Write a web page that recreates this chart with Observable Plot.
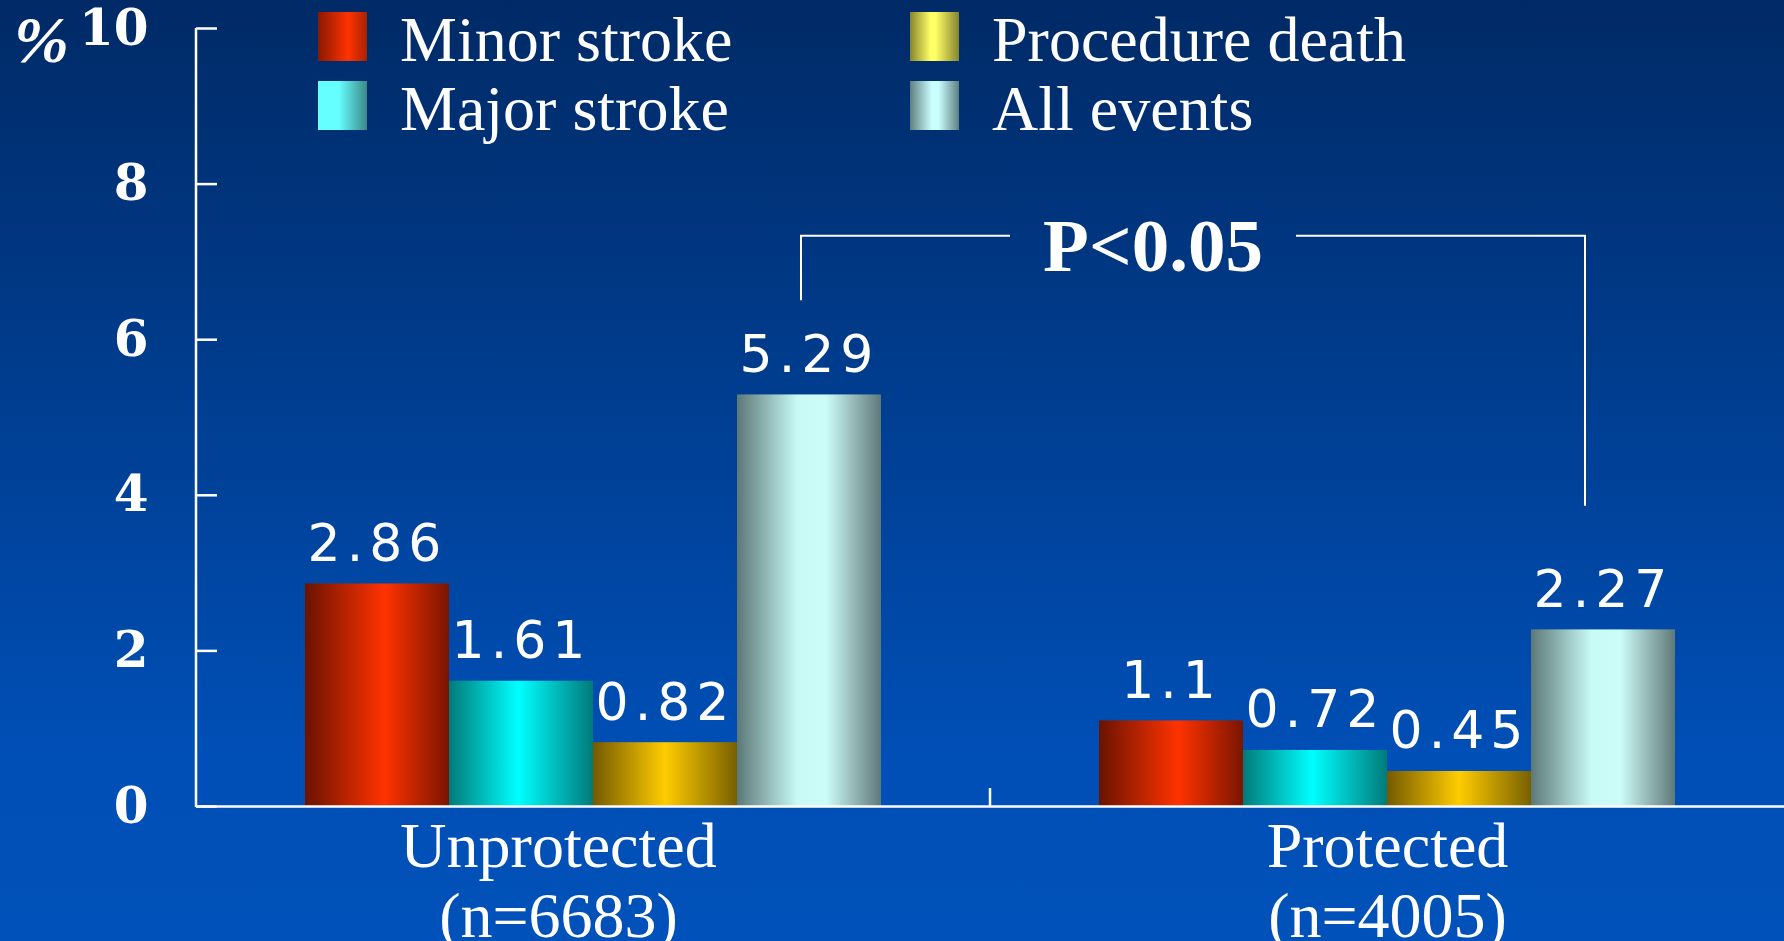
<!DOCTYPE html>
<html>
<head>
<meta charset="utf-8">
<script src="https://cdn.jsdelivr.net/npm/d3@7"></script>
<script src="https://cdn.jsdelivr.net/npm/@observablehq/plot@0.6"></script>
<style>
  html, body { margin: 0; padding: 0; }
  body {
    width: 1784px; height: 941px; overflow: hidden;
    background: linear-gradient(180deg, #002a66 0%, #004fb6 80%, #0051b9 100%);
  }
  #chart { position: relative; width: 1784px; height: 941px; }
  #chart svg { position: absolute; left: 0; top: 0; }
  .ylabel, .legend-text {
    position: absolute; color: #fff; line-height: 1; white-space: nowrap;
    font-family: "Liberation Serif", "Times New Roman", serif;
  }
  .ylabel { font-size: 66px; font-weight: bold; font-style: italic; left: 14px; top: 7px; }
  .legend-text { font-size: 64px; }
  .swatch { position: absolute; width: 49px; height: 49px; }
</style>
</head>
<body>
<div id="chart"></div>
<script>
// Stroke and death rates (%) after carotid stenting, with and without cerebral protection
const groups = ["Unprotected", "Protected"];
const groupSizes = [6683, 4005];
const series = ["Minor stroke", "Major stroke", "Procedure death", "All events"];
const unprotectedRates = [2.86, 1.61, 0.82, 5.29];
const protectedRates = [1.1, 0.72, 0.45, 2.27];
const yTicks = [0, 2, 4, 6, 8, 10];
const yLabel = "%";
const pLabel = "P<0.05";
// bracket levels (in %): top bar, end of left leg, end of right leg
const bracketTop = 7.33, bracketLeftEnd = 6.5, bracketRightEnd = 3.86;

// bar fills: horizontal "cylinder" shading per series
const barShades = [
  [["0%", "#6a1300"], ["55%", "#ff3300"], ["100%", "#7a1500"]],
  [["0%", "#007a7a"], ["48%", "#00ffff"], ["100%", "#007a7a"]],
  [["0%", "#745a00"], ["50%", "#ffcc00"], ["100%", "#786000"]],
  [["0%", "#5c7878"], ["42%", "#c8faf6"], ["62%", "#ccfcf8"], ["100%", "#5f7878"]]
];
// legend swatch shading
const swatchShades = [
  "linear-gradient(90deg, #8a1800 0%, #ff3300 62%, #a82200 100%)",
  "linear-gradient(90deg, #66ffff 0%, #66ffff 42%, #3c8888 100%)",
  "linear-gradient(90deg, #85852e 0%, #ffff66 42%, #ffff66 52%, #85852e 100%)",
  "linear-gradient(90deg, #5f7f7f 0%, #ccffff 45%, #ccffff 58%, #5f7f7f 100%)"
];

const rates = [unprotectedRates, protectedRates];
const rows = groups.flatMap((g, gi) =>
  series.map((s, si) => ({group: g, series: s, value: rates[gi][si]}))
);
const groupLabel = (g) => `${g}\n(n=${groupSizes[groups.indexOf(g)]})`;

const serif = "Liberation Serif";

const plot = Plot.plot({
  width: 1784,
  height: 941,
  marginTop: 28,
  marginBottom: 135,
  marginLeft: 196,
  marginRight: 0,
  style: {background: "transparent", color: "white", fontFamily: serif, overflow: "visible"},
  fx: {domain: groups, padding: 0, label: null},
  x: {domain: series, paddingInner: 0, paddingOuter: 0.74, axis: null, label: null},
  y: {domain: [0, 10], label: null},
  color: {domain: series, range: series.map((s, i) => `url(#bar-${i})`)},
  marks: [
    Plot.barY(rows, {fx: "group", x: "series", y: "value", fill: "series", inset: 0}),
    Plot.ruleY([0], {stroke: "white", strokeWidth: 2.5}),
    Plot.text(rows, {
      fx: "group", x: "series", y: "value",
      text: (d) => String(d.value),
      dy: -23, lineAnchor: "bottom",
      fontSize: 52, fontFamily: "DejaVu Sans", fontWeight: 400, fill: "white"
    }),
    Plot.axisY({
      ticks: yTicks, tickSize: -21, tickPadding: 69, label: null,
      fontSize: 50, fontWeight: "bold", fontFamily: "DejaVu Serif", strokeWidth: 2.5
    }),
    Plot.axisFx({
      anchor: "bottom",
      ticks: ["Unprotected"], tickFormat: groupLabel, tickSize: 0, tickPadding: 11,
      lineHeight: 1.094, dx: -35, label: null, fontSize: 64, fontFamily: serif
    }),
    Plot.axisFx({
      anchor: "bottom",
      ticks: ["Protected"], tickFormat: groupLabel, tickSize: 0, tickPadding: 11,
      lineHeight: 1.094, label: null, fontSize: 64, fontFamily: serif
    })
  ]
});

const chart = document.getElementById("chart");
chart.append(plot);

const svg = d3.select(plot.tagName.toLowerCase() === "svg" ? plot : plot.querySelector("svg"));
const svgNode = svg.node();

// gradients referenced by the bar fills
const defs = svg.insert("defs", ":first-child");
barShades.forEach((stops, i) => {
  const g = defs.append("linearGradient").attr("id", `bar-${i}`)
    .attr("x1", "0").attr("x2", "1").attr("y1", "0").attr("y2", "0");
  stops.forEach(([o, c]) => g.append("stop").attr("offset", o).attr("stop-color", c));
});

// wider tracking on the value labels
svg.selectAll('g[aria-label="text"] text').style("letter-spacing", "6px");

// y position from the plot's own y scale
const ys = plot.scale("y");
const y = ys.apply ? ys.apply : d3.scaleLinear(ys.domain, ys.range);

const box0 = svgNode.getBoundingClientRect();
const rectBox = (el) => {
  const b = el.getBoundingClientRect();
  return {left: b.left - box0.left, right: b.right - box0.left, top: b.top - box0.top};
};

const ann = svg.append("g").attr("stroke", "white").attr("fill", "none");

// vertical value axis line
const axisX = 196;
ann.append("line").attr("x1", axisX).attr("x2", axisX)
  .attr("y1", y(10)).attr("y2", y(0) + 1).attr("stroke-width", 2.5);

// tick between the two groups on the category axis
const fxs = plot.scale("fx");
const fx = fxs.apply ? fxs.apply : d3.scaleBand(fxs.domain, fxs.range).paddingInner(0).paddingOuter(0);
const sepX = fx(groups[1]);
ann.append("line").attr("x1", sepX).attr("x2", sepX)
  .attr("y1", y(0) - 18).attr("y2", y(0)).attr("stroke-width", 2.5);

// significance bracket between the two "All events" bars
const allBars = Array.from(svgNode.querySelectorAll('g[aria-label="bar"] rect'))
  .filter((r) => r.getAttribute("fill") === "url(#bar-3)")
  .map(rectBox)
  .sort((a, b) => a.left - b.left);
const xL = (allBars[0].left + allBars[0].right) / 2 - 8;
const xR = (allBars[1].left + allBars[1].right) / 2 - 18;
const xMid = (xL + xR) / 2 - 40;
const gapHalf = 143;
const yTop = y(bracketTop);
ann.append("path").attr("stroke-width", 2)
  .attr("d", `M${xL},${y(bracketLeftEnd)}V${yTop}H${xMid - gapHalf}`);
ann.append("path").attr("stroke-width", 2)
  .attr("d", `M${xMid + gapHalf},${yTop}H${xR}V${y(bracketRightEnd)}`);
svg.append("text")
  .attr("x", xMid).attr("y", yTop + 35)
  .attr("text-anchor", "middle")
  .attr("fill", "white").attr("stroke", "none")
  .attr("font-family", serif).attr("font-weight", "bold").attr("font-size", 75)
  .text(pLabel);

// axis unit label
const yl = document.createElement("div");
yl.className = "ylabel";
yl.textContent = yLabel;
chart.append(yl);

// legend: two columns of two rows
const legendCols = [318, 910], legendRows = [12, 81];
series.forEach((s, i) => {
  const col = Math.floor(i / 2), row = i % 2;
  const sw = document.createElement("div");
  sw.className = "swatch";
  sw.style.left = legendCols[col] + "px";
  sw.style.top = legendRows[row] + "px";
  sw.style.background = swatchShades[i];
  chart.append(sw);
  const t = document.createElement("div");
  t.className = "legend-text";
  t.style.left = (legendCols[col] + 82) + "px";
  t.style.top = (legendRows[row] - 4) + "px";
  t.textContent = s;
  chart.append(t);
});
</script>
</body>
</html>
